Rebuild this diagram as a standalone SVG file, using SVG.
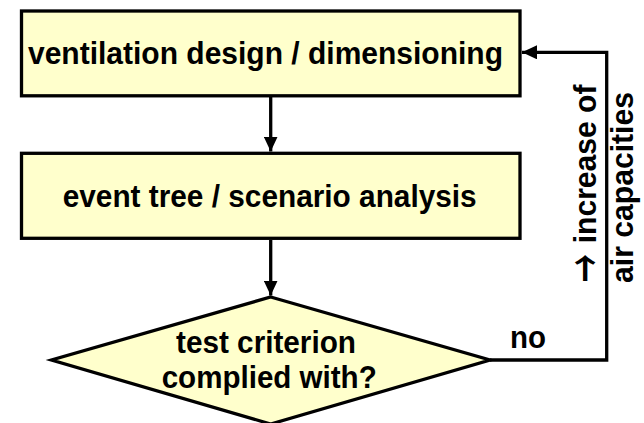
<svg xmlns="http://www.w3.org/2000/svg" width="644" height="423" viewBox="0 0 644 423">
<style>
.box{fill:#FFFFCC;stroke:#000;stroke-width:3.3}
.lbl{font-family:"Liberation Sans",Arial,sans-serif;font-weight:bold;font-size:31px;fill:#000}
.arr{font-family:"Noto Sans CJK JP","DejaVu Sans",sans-serif;font-weight:bold;font-size:42px}
.con{fill:none;stroke:#000;stroke-width:3.3}
</style>
<defs>
<marker id="ah" markerUnits="userSpaceOnUse" markerWidth="16" markerHeight="14" refX="15" refY="7" orient="auto">
<path d="M0,0 L15,7 L0,14 z" fill="#000"/>
</marker>
</defs>
<rect width="644" height="423" fill="#fff"/>
<g id="connectors">
<line class="con" x1="270.7" y1="97" x2="270.7" y2="151.5" marker-end="url(#ah)"/>
<line class="con" x1="270.7" y1="240" x2="270.7" y2="295.5" marker-end="url(#ah)"/>
<polyline class="con" points="490,360 606.7,360 606.7,52.3 522,52.3" marker-end="url(#ah)"/>
<text class="lbl" x="510" y="348" textLength="36" lengthAdjust="spacingAndGlyphs">no</text>
<text class="lbl" transform="translate(595.5,282) rotate(-90)" x="0" y="0"><tspan class="arr" y="5" textLength="28" lengthAdjust="spacingAndGlyphs">→</tspan><tspan x="30.4" y="0" textLength="167" lengthAdjust="spacingAndGlyphs"> increase of</tspan></text>
<text class="lbl" transform="translate(633,283) rotate(-90)" x="0" y="0" textLength="191" lengthAdjust="spacingAndGlyphs">air capacities</text>
</g>
<g id="node-design">
<rect class="box" x="21.5" y="11" width="498.5" height="84.8"/>
<text class="lbl" x="28" y="64.3" textLength="475" lengthAdjust="spacingAndGlyphs">ventilation design / dimensioning</text>
</g>
<g id="node-analysis">
<rect class="box" x="21.5" y="153.3" width="498.5" height="85"/>
<text class="lbl" x="62.7" y="207" textLength="414" lengthAdjust="spacingAndGlyphs">event tree / scenario analysis</text>
</g>
<g id="node-test">
<polygon class="box" points="270.7,297 490,360 270.7,424 51.5,360"/>
<text class="lbl" x="176" y="353" textLength="180" lengthAdjust="spacingAndGlyphs">test criterion</text>
<text class="lbl" x="161.7" y="388" textLength="215" lengthAdjust="spacingAndGlyphs">complied with?</text>
</g>
</svg>
